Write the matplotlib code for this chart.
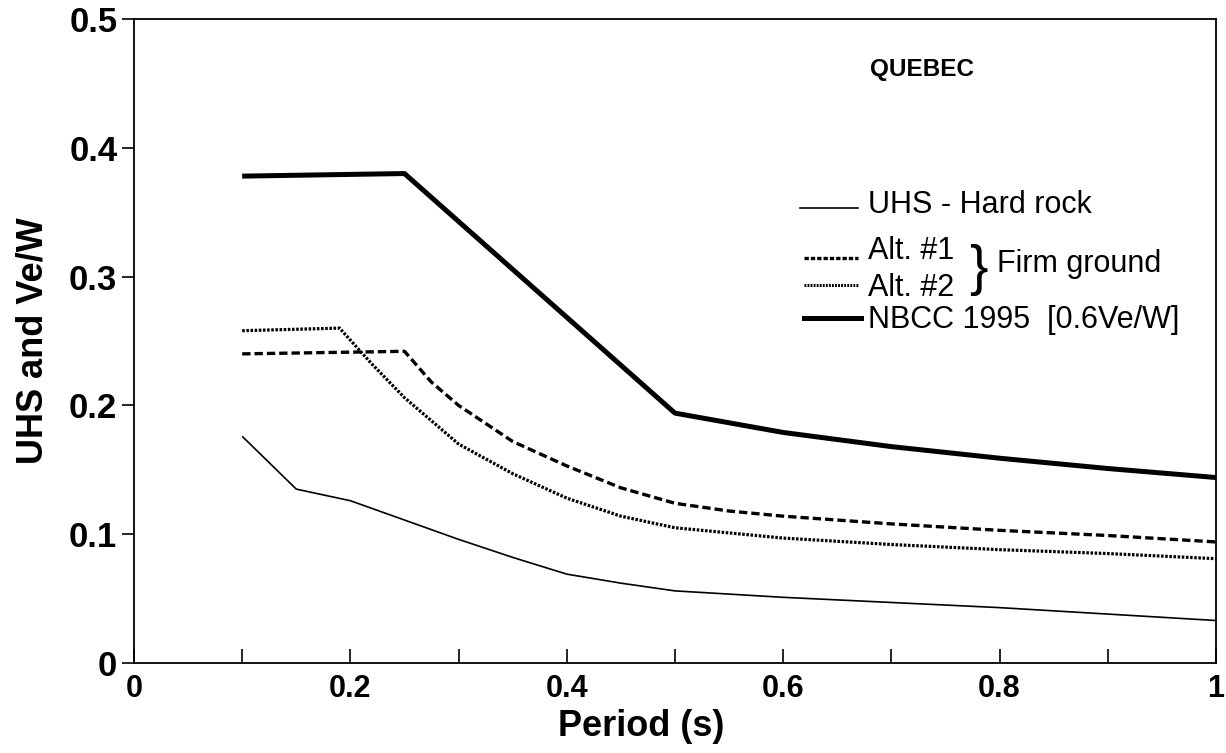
import numpy as np
import matplotlib
matplotlib.use('Agg')
import matplotlib.pyplot as plt

plt.rcParams['font.family'] = ['Liberation Sans', 'DejaVu Sans']

# Period (s) and spectral ordinates
period_nbcc = [0.1, 0.25, 0.5, 0.6, 0.7, 0.8, 0.9, 1.0]
nbcc = [0.378, 0.380, 0.194, 0.179, 0.168, 0.159, 0.151, 0.144]

period_alt1 = [0.1, 0.25, 0.275, 0.3, 0.35, 0.4, 0.45, 0.5, 0.55, 0.6, 0.7, 0.8, 0.9, 1.0]
alt1 = [0.240, 0.242, 0.218, 0.200, 0.172, 0.153, 0.136, 0.124, 0.118, 0.114, 0.108, 0.103, 0.099, 0.094]

period_alt2 = [0.1, 0.19, 0.22, 0.25, 0.3, 0.35, 0.4, 0.45, 0.5, 0.6, 0.7, 0.8, 0.9, 1.0]
alt2 = [0.258, 0.260, 0.232, 0.206, 0.170, 0.147, 0.128, 0.114, 0.105, 0.097, 0.092, 0.088, 0.085, 0.081]

period_uhs = [0.1, 0.15, 0.2, 0.25, 0.3, 0.35, 0.4, 0.45, 0.5, 0.6, 0.7, 0.8, 0.9, 1.0]
uhs = [0.176, 0.135, 0.126, 0.111, 0.096, 0.082, 0.069, 0.062, 0.056, 0.051, 0.047, 0.043, 0.038, 0.033]

x_ticks = [0, 0.2, 0.4, 0.6, 0.8, 1.0]
x_ticklabels = ['0', '0.2', '0.4', '0.6', '0.8', '1']
y_ticks = [0, 0.1, 0.2, 0.3, 0.4, 0.5]
y_ticklabels = ['0', '0.1', '0.2', '0.3', '0.4', '0.5']

fig = plt.figure(figsize=(12.26, 7.53), dpi=100)
ax = fig.add_axes([0.1093, 0.1195, 0.8825, 0.8553])

ax.plot(period_uhs, uhs, color='black', linewidth=1.2, solid_capstyle='butt')
ax.plot(period_alt1, alt1, color='black', linewidth=2.4, linestyle=(0, (2.5, 1.2)))
ax.plot(period_alt2, alt2, color='black', linewidth=2.3, linestyle=(0, (0.8, 0.5)))
ax.plot(period_nbcc, nbcc, color='black', linewidth=3.6, solid_capstyle='butt')

ax.set_xlim(0, 1)
ax.set_ylim(0, 0.5)
ax.set_xticks(x_ticks)
ax.set_xticklabels(x_ticklabels)
ax.set_xticks(np.arange(0.1, 1.0, 0.2), minor=True)
ax.set_yticks(y_ticks)
ax.set_yticklabels(y_ticklabels)

ax.tick_params(axis='x', which='both', direction='in', length=10, width=1.2, pad=8,
               labelsize=22)
ax.tick_params(axis='y', which='both', direction='out', length=9, width=1.2, pad=3,
               labelsize=25)
for lab in ax.get_xticklabels() + ax.get_yticklabels():
    lab.set_fontweight('bold')
for sp in ax.spines.values():
    sp.set_linewidth(1.3)

ax.set_xlabel('Period (s)', fontsize=26, fontweight='bold')
ax.xaxis.set_label_coords(0.469, -0.072)
ax.set_ylabel('UHS and Ve/W', fontsize=26, fontweight='bold')
ax.yaxis.set_label_coords(-0.077, 0.5)

# hand-made legend
tr = ax.transAxes
ax.text(0.728, 0.921, 'QUEBEC', transform=tr, fontsize=17.5, fontweight='bold',
        ha='center', va='center')

lx0, lx1, tx = 0.616, 0.669, 0.678
ax.plot([lx0, lx1], [0.706, 0.706], transform=tr, color='black', linewidth=1.2)
ax.plot([lx0 + 0.003, lx1], [0.629, 0.629], transform=tr, color='black',
        linewidth=2.4, linestyle=(0, (1.3, 0.6)))
ax.plot([lx0 + 0.003, lx1], [0.587, 0.587], transform=tr, color='black',
        linewidth=2.2, linestyle=(0, (0.6, 0.4)))
ax.plot([lx0 + 0.003, lx1 + 0.003], [0.536, 0.536], transform=tr, color='black',
        linewidth=3.6)

leg_kw = dict(transform=tr, fontsize=22, ha='left', va='center')
ax.text(tx, 0.711, 'UHS - Hard rock', **leg_kw)
ax.text(tx, 0.640, 'Alt. #1', **leg_kw)
ax.text(tx, 0.582, 'Alt. #2', **leg_kw)
ax.text(tx, 0.533, 'NBCC 1995  [0.6Ve/W]', **leg_kw)
ax.text(0.772, 0.611, '}', transform=tr, fontsize=40, ha='left', va='center',
        fontweight='light')
ax.text(0.798, 0.620, 'Firm ground', **leg_kw)

plt.savefig('out.png', dpi=100)
plt.close()
